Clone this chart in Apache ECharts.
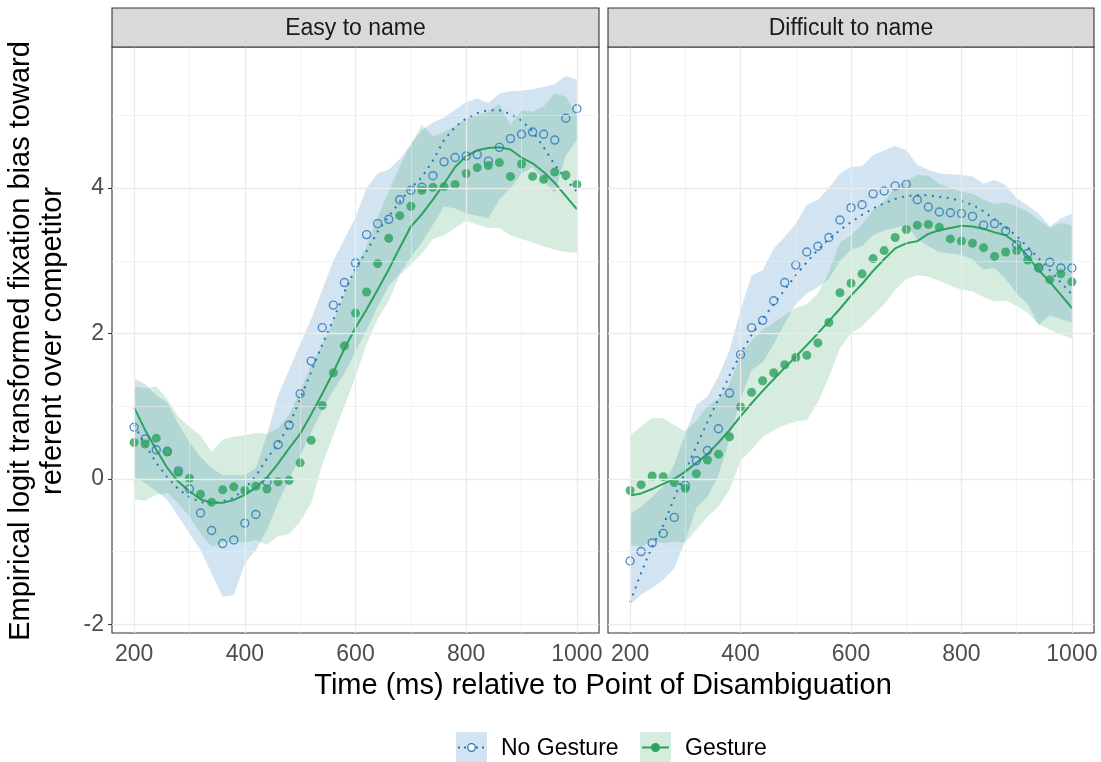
<!DOCTYPE html>
<html><head><meta charset="utf-8">
<script src="https://cdn.jsdelivr.net/npm/echarts@6/dist/echarts.min.js"></script>
<style>html,body{margin:0;padding:0;background:#fff}#c{width:1101px;height:762px}</style>
</head><body><div id="c"></div><script>
const times = [200,220,240,260,280,300,320,340,360,380,400,420,440,460,480,500,520,540,560,580,600,620,640,660,680,700,720,740,760,780,800,820,840,860,880,900,920,940,960,980,1000];
const xTicks = [200,400,600,800,1000];
const xMinor = [300,500,700,900];
const yTicks = [-2,0,2,4];
const yMinor = [-1,1,3,5];
const panels = ['Easy to name','Difficult to name'];
const groups = ['No Gesture','Gesture'];

// Easy to name
const easyNoGesturePoints = [0.71,0.55,0.40,0.38,0.11,-0.14,-0.47,-0.71,-0.89,-0.84, -0.61,-0.49,-0.04,0.47,0.74,1.17,1.62,2.08,2.39,2.70, 2.97,3.36,3.51,3.57,3.84,3.97,4.01,4.17,4.36,4.42, 4.44,4.46,4.37,4.56,4.68,4.74,4.77,4.74,4.66,4.96, 5.09];
const easyGesturePoints = [0.50,0.48,0.56,0.37,0.09,0.01,-0.21,-0.32,-0.15,-0.11, -0.16,-0.10,-0.14,-0.04,-0.02,0.22,0.53,1.01,1.46,1.83, 2.28,2.57,2.96,3.31,3.62,3.75,3.97,4.01,4.02,4.05, 4.20,4.28,4.31,4.35,4.16,4.33,4.16,4.12,4.22,4.18, 4.05];
const easyNoGestureFit = [0.74,0.47,0.22,0.02,-0.14,-0.25,-0.32,-0.34,-0.31,-0.26, -0.14,0.04,0.28,0.48,0.74,1.10,1.47,1.85,2.19,2.57, 2.90,3.13,3.40,3.61,3.81,4.00,4.15,4.38,4.66,4.84, 4.96,5.03,5.07,5.07,5.02,4.93,4.78,4.56,4.32,4.12, 3.95];
const easyGestureFit = [0.98,0.67,0.40,0.15,-0.04,-0.17,-0.28,-0.33,-0.33,-0.29, -0.22,-0.12,0.02,0.21,0.42,0.62,0.89,1.17,1.47,1.79, 2.08,2.33,2.60,2.88,3.18,3.47,3.64,3.84,4.06,4.29, 4.44,4.52,4.55,4.56,4.53,4.42,4.34,4.22,4.07,3.89, 3.71];
const easyNoGestureLower = [0.03,-0.06,-0.17,-0.29,-0.52,-0.75,-0.98,-1.30,-1.62,-1.60, -1.16,-0.98,-0.70,-0.33,-0.01,0.31,0.64,0.95,1.22,1.45, 1.75,2.05,2.37,2.65,2.82,3.05,3.25,3.50,3.75,3.72, 3.65,3.62,3.58,3.84,4.00,4.20,4.29,4.10,3.93,4.45, 4.66];
const easyNoGestureUpper = [1.38,1.30,1.15,1.05,0.75,0.50,0.30,0.15,0.05,0.05, 0.05,0.15,0.60,1.15,1.50,1.85,2.20,2.60,3.00,3.30, 3.60,4.00,4.20,4.25,4.40,4.60,4.80,4.90,4.97,5.08, 5.18,5.23,5.17,5.30,5.33,5.34,5.36,5.39,5.43,5.54, 5.49];
const easyGestureLower = [-0.28,-0.30,-0.22,-0.19,-0.34,-0.52,-0.75,-0.93,-0.88,-0.86, -0.88,-0.84,-0.91,-0.79,-0.76,-0.59,-0.33,0.20,0.60,1.00, 1.40,1.85,2.20,2.45,2.80,2.95,3.10,3.30,3.35,3.45, 3.55,3.50,3.45,3.45,3.35,3.30,3.25,3.20,3.15,3.12, 3.11];
const easyGestureUpper = [1.27,1.25,1.27,1.10,0.85,0.72,0.60,0.37,0.54,0.58, 0.60,0.63,0.62,0.70,0.88,1.22,1.56,1.85,2.17,2.55, 2.90,3.20,3.60,3.95,4.30,4.60,4.87,4.71,4.77,4.85, 4.96,5.00,5.05,5.16,4.87,5.07,5.05,5.12,5.30,5.26, 5.00];

// Difficult to name
const diffNoGesturePoints = [-1.13,-1.00,-0.88,-0.75,-0.53,-0.09,0.25,0.39,0.69,1.18, 1.71,2.08,2.18,2.45,2.70,2.94,3.12,3.20,3.32,3.56, 3.73,3.77,3.92,3.96,4.03,4.05,3.84,3.74,3.67,3.66, 3.65,3.61,3.49,3.51,3.41,3.22,3.10,2.90,2.98,2.90, 2.90];
const diffGesturePoints = [-0.16,-0.08,0.04,0.03,-0.05,-0.13,0.07,0.26,0.34,0.58, 0.99,1.19,1.35,1.46,1.57,1.67,1.70,1.87,2.15,2.56, 2.69,2.82,3.03,3.14,3.32,3.43,3.49,3.50,3.46,3.30, 3.27,3.24,3.18,3.06,3.12,3.14,3.01,2.91,2.74,2.82, 2.71];
const diffNoGestureFit = [-1.70,-1.29,-0.93,-0.64,-0.26,0.10,0.45,0.78,1.10,1.42, 1.72,1.98,2.20,2.40,2.60,2.80,2.98,3.15,3.30,3.42, 3.53,3.63,3.72,3.79,3.85,3.89,3.90,3.90,3.88,3.86, 3.82,3.77,3.68,3.57,3.46,3.34,3.19,3.03,2.87,2.70, 2.54];
const diffGestureFit = [-0.23,-0.20,-0.14,-0.07,0.00,0.10,0.22,0.34,0.50,0.67, 0.86,1.04,1.21,1.37,1.53,1.68,1.84,2.00,2.17,2.34, 2.52,2.68,2.86,3.02,3.17,3.24,3.27,3.37,3.42,3.45, 3.48,3.47,3.44,3.39,3.35,3.24,3.06,2.87,2.71,2.53, 2.35];
const diffNoGestureLower = [-1.73,-1.59,-1.50,-1.39,-1.23,-0.85,-0.40,-0.25,0.05,0.55, 1.10,1.50,1.60,1.85,2.14,2.40,2.55,2.64,2.75,3.00, 3.15,3.20,3.35,3.42,3.45,3.50,3.30,3.20,3.12,3.10, 3.08,3.02,2.88,2.90,2.75,2.55,2.40,2.12,2.25,2.20, 2.15];
const diffNoGestureUpper = [-0.49,-0.38,-0.25,-0.10,0.20,0.62,1.02,1.13,1.41,1.77, 2.32,2.80,2.87,3.17,3.33,3.51,3.77,3.84,4.00,4.20, 4.29,4.30,4.45,4.52,4.58,4.52,4.32,4.25,4.20,4.19, 4.18,4.16,4.06,4.11,4.04,3.86,3.76,3.65,3.47,3.58, 3.65];
const diffGestureLower = [-0.91,-0.93,-0.86,-0.88,-0.87,-0.88,-0.70,-0.52,-0.38,-0.15, 0.25,0.40,0.58,0.67,0.74,0.79,0.81,1.05,1.40,1.80, 2.00,2.10,2.25,2.40,2.60,2.75,2.80,2.78,2.72,2.66, 2.60,2.58,2.50,2.44,2.45,2.38,2.28,2.12,2.05,1.98, 1.93];
const diffGestureUpper = [0.60,0.72,0.84,0.83,0.74,0.65,0.80,1.00,1.10,1.30, 1.70,1.90,2.05,2.15,2.25,2.35,2.40,2.55,2.85,3.25, 3.35,3.50,3.70,3.82,4.00,4.10,4.18,4.17,4.06,4.00, 3.95,3.92,3.84,3.78,3.80,3.75,3.68,3.56,3.45,3.52, 3.49];

const BLUE = '#2A76B8', GREEN = '#2CA25F';
const BLUE_FILL = 'rgba(49,130,189,0.22)', GREEN_FILL = 'rgba(44,162,95,0.2)';
const FONT = '"Liberation Sans", Arial, Helvetica, sans-serif';

const panelData = [
  {ngP: easyNoGesturePoints, gP: easyGesturePoints, ngF: easyNoGestureFit, gF: easyGestureFit,
   ngL: easyNoGestureLower, ngU: easyNoGestureUpper, gL: easyGestureLower, gU: easyGestureUpper},
  {ngP: diffNoGesturePoints, gP: diffGesturePoints, ngF: diffNoGestureFit, gF: diffGestureFit,
   ngL: diffNoGestureLower, ngU: diffNoGestureUpper, gL: diffGestureLower, gU: diffGestureUpper}
];

const gridLeft = [112, 608], gridW = 487, gridTop = 47, gridH = 586;
const pair = arr => times.map((t, i) => [t, arr[i]]);

function ribbon(k, lo, hi, fill) {
  return {
    type: 'custom', xAxisIndex: k, yAxisIndex: k, z: 2, silent: true,
    data: times.map((t, i) => [t, lo[i], hi[i]]),
    encode: {x: 0, y: [1, 2]},
    renderItem: function (params, api) {
      if (params.dataIndex !== 0) return null;
      const pts = [];
      for (let i = 0; i < times.length; i++) pts.push(api.coord([times[i], hi[i]]));
      for (let i = times.length - 1; i >= 0; i--) pts.push(api.coord([times[i], lo[i]]));
      return {type: 'polygon', shape: {points: pts}, style: {fill: fill, stroke: null}};
    }
  };
}

const grids = [], xAxes = [], yAxes = [], series = [];
for (let k = 0; k < 2; k++) {
  grids.push({left: gridLeft[k], top: gridTop, width: gridW - (k ? 1 : 0), height: gridH,
    show: true, borderColor: '#333333', borderWidth: 1.1, backgroundColor: '#fff', containLabel: false});
  xAxes.push({gridIndex: k, type: 'value', min: 160, max: 1040,
    splitLine: {show: false}, axisLine: {show: false},
    axisTick: {show: true, customValues: xTicks, length: 4, lineStyle: {color: '#333333', width: 1.1}},
    axisLabel: {customValues: xTicks, color: '#4D4D4D', fontSize: 23, fontFamily: FONT, margin: 10,
      formatter: v => String(v)}});
  yAxes.push({gridIndex: k, type: 'value', min: -2.12, max: 5.94,
    splitLine: {show: false}, axisLine: {show: false},
    axisTick: {show: k === 0, customValues: yTicks, length: 4, lineStyle: {color: '#333333', width: 1.1}},
    axisLabel: {show: k === 0, customValues: yTicks, color: '#4D4D4D', fontSize: 23, fontFamily: FONT, margin: 8,
      formatter: v => String(v)}});
  const ml = [];
  xMinor.forEach(v => ml.push({xAxis: v, lineStyle: {color: '#EBEBEB', width: 0.6, type: 'solid'}}));
  yMinor.forEach(v => ml.push({yAxis: v, lineStyle: {color: '#EBEBEB', width: 0.6, type: 'solid'}}));
  xTicks.forEach(v => ml.push({xAxis: v, lineStyle: {color: '#EBEBEB', width: 1.3, type: 'solid'}}));
  yTicks.forEach(v => ml.push({yAxis: v, lineStyle: {color: '#EBEBEB', width: 1.3, type: 'solid'}}));
  series.push({type: 'line', xAxisIndex: k, yAxisIndex: k, data: [[600, 0]], symbol: 'none', z: 0,
    lineStyle: {opacity: 0}, silent: true,
    markLine: {silent: true, symbol: ['none', 'none'], label: {show: false}, animation: false, data: ml}});
  const d = panelData[k];
  series.push(ribbon(k, d.ngL, d.ngU, BLUE_FILL));
  series.push(ribbon(k, d.gL, d.gU, GREEN_FILL));
  series.push({name: groups[0], type: 'line', xAxisIndex: k, yAxisIndex: k, data: pair(d.ngF), symbol: 'none', z: 3,
    lineStyle: {color: BLUE, width: 2, type: [2, 5.5], cap: 'butt'}});
  series.push({name: groups[1], type: 'line', xAxisIndex: k, yAxisIndex: k, data: pair(d.gF), symbol: 'none', z: 3,
    lineStyle: {color: GREEN, width: 2}});
  series.push({name: groups[0], type: 'scatter', xAxisIndex: k, yAxisIndex: k, data: pair(d.ngP), z: 4,
    symbol: 'circle', symbolSize: 8, itemStyle: {color: 'rgba(255,255,255,0)', borderColor: BLUE, borderWidth: 1.4}});
  series.push({name: groups[1], type: 'scatter', xAxisIndex: k, yAxisIndex: k, data: pair(d.gP), z: 4,
    symbol: 'circle', symbolSize: 9, itemStyle: {color: GREEN}});
}

const graphics = [];
for (let k = 0; k < 2; k++) {
  const w = gridW - (k ? 1 : 0);
  graphics.push({type: 'rect', shape: {x: gridLeft[k], y: 8, width: w, height: gridTop - 8},
    style: {fill: '#D9D9D9', stroke: '#333333', lineWidth: 1.1}, z: 10});
  graphics.push({type: 'text', x: gridLeft[k] + w / 2, y: 29, z: 11,
    style: {text: panels[k], font: '23px ' + FONT, fill: '#1A1A1A', align: 'center', verticalAlign: 'middle'}});
}
graphics.push({type: 'text', x: 603, y: 686, z: 11,
  style: {text: 'Time (ms) relative to Point of Disambiguation', font: '29px ' + FONT, fill: '#000',
    align: 'center', verticalAlign: 'middle'}});
graphics.push({type: 'text', x: 37, y: 341, rotation: Math.PI / 2, z: 11,
  style: {text: 'Empirical logit transformed fixation bias toward\nreferent over competitor', font: '29px ' + FONT,
    fill: '#000', align: 'center', verticalAlign: 'middle', lineHeight: 32}});
// legend
const keys = [{x: 456, fill: BLUE_FILL, color: BLUE, dash: [2, 4], label: groups[0], open: true},
              {x: 640, fill: GREEN_FILL, color: GREEN, dash: null, label: groups[1], open: false}];
keys.forEach(kk => {
  graphics.push({type: 'rect', shape: {x: kk.x, y: 732, width: 31, height: 31}, style: {fill: kk.fill}, z: 11});
  graphics.push({type: 'line', shape: {x1: kk.x + 2, y1: 747.5, x2: kk.x + 29, y2: 747.5},
    style: {stroke: kk.color, lineWidth: 2, lineDash: kk.dash}, z: 12});
  graphics.push({type: 'circle', shape: {cx: kk.x + 15.5, cy: 747.5, r: kk.open ? 3.8 : 4.5},
    style: kk.open ? {fill: '#fff', stroke: kk.color, lineWidth: 1.3} : {fill: kk.color}, z: 13});
  graphics.push({type: 'text', x: kk.x + 45, y: 749, z: 12,
    style: {text: kk.label, font: '23px ' + FONT, fill: '#000', align: 'left', verticalAlign: 'middle'}});
});

const chart = echarts.init(document.getElementById('c'), null, {renderer: 'canvas'});
chart.setOption({
  animation: false,
  backgroundColor: '#ffffff',
  grid: grids, xAxis: xAxes, yAxis: yAxes, series: series, graphic: graphics
});
</script></body></html>
